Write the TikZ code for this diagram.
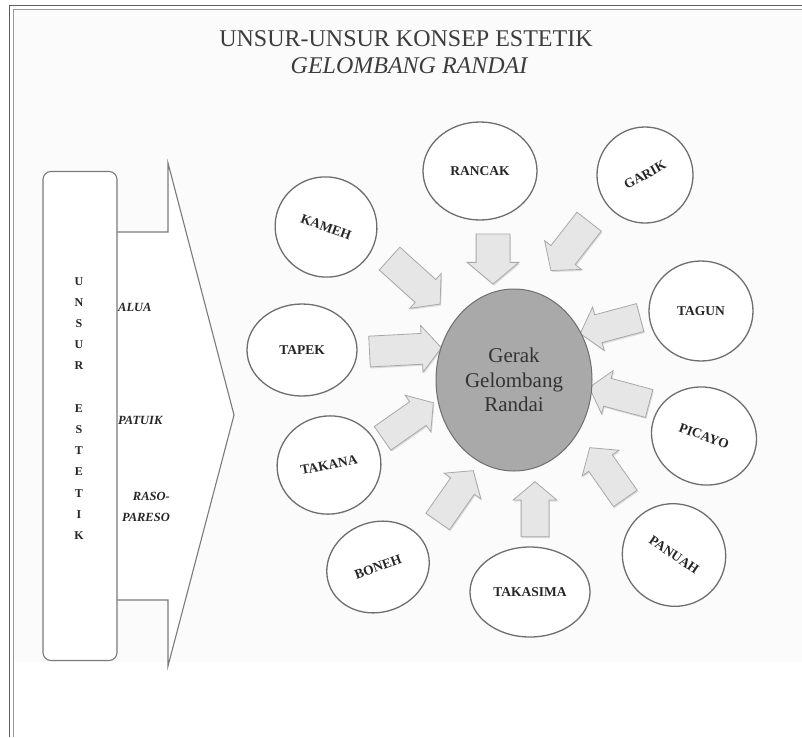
\documentclass[tikz,border=0pt]{standalone}
\usepackage{fontspec}
\setmainfont{Liberation Serif}
\usetikzlibrary{shapes.geometric,shapes.arrows,shadows}
\definecolor{linegray}{HTML}{6E6E6E}
\definecolor{boxgray}{HTML}{7A7A7A}
\definecolor{arrowfill}{HTML}{E6E6E6}
\definecolor{arrowline}{HTML}{A8A8A8}
\definecolor{centerfill}{HTML}{A9A9A9}
\definecolor{titlegray}{HTML}{3C3C3C}
\definecolor{framegray}{HTML}{9A9A9A}
\definecolor{framered}{HTML}{FF1A1A}
\tikzset{
  circ/.style={ellipse, draw=linegray, line width=1.3pt, fill=white, inner sep=0pt,
    font=\fontsize{13.5}{16}\selectfont\bfseries, text=black!85},
  barrow/.style n args={3}{single arrow, draw=arrowline, fill=arrowfill, line width=0.8pt,
    single arrow tip angle=100, single arrow head extend=#3, inner xsep=0pt, inner ysep=#2,
    minimum height=#1,
    drop shadow={opacity=0.25, shadow xshift=1pt, shadow yshift=-1.5pt}},
  sidelabel/.style={font=\fontsize{12.5}{21}\selectfont\bfseries\itshape, text=black!85, inner sep=0pt},
}
\begin{document}
\begin{tikzpicture}[x=1pt, y=-1pt]
\useasboundingbox (0,0) rectangle (802,737);
% background
\fill[gray!3] (13.5,9.5) rectangle (802,662);
% title
\node[font=\fontsize{24}{28}\selectfont, text=titlegray] (t1) at (406,39) {UNSUR-UNSUR KONSEP ESTETIK};
\node[font=\fontsize{24}{28}\selectfont\itshape, text=titlegray] (t2) at (409,66) {GELOMBANG RANDAI};
% left big arrow
\draw[boxgray, line width=1.1pt, fill=white, line join=miter]
  (117,232) -- (168,232) -- (168,163) -- (234,415) -- (168,666) -- (168,600) -- (117,600);
\node[draw=boxgray, line width=1.1pt, fill=white, rounded corners=8pt, minimum width=74pt, minimum height=489pt, inner sep=0pt] (box) at (80,416) {};
\node[font=\fontsize{12}{21.2}\selectfont\bfseries, align=center, text=black!85, inner sep=0pt, anchor=north] (unsur) at (79,277)
  {U\\N\\S\\U\\R\\ \\E\\S\\T\\E\\T\\I\\K};
\node[sidelabel, anchor=west] (alua) at (118,307) {ALUA};
\node[sidelabel, anchor=west] (patuik) at (118,420) {PATUIK};
\node[sidelabel, anchor=east, align=right] (raso) at (170,507) {RASO-\\PARESO};
% block arrows
\node[barrow={68pt}{15pt}{8pt}, rotate=-42] (a1) at (410,277) {};
\node[barrow={50pt}{16.5pt}{9pt}, rotate=-90] (a2) at (493,252) {};
\node[barrow={62pt}{15pt}{8pt}, rotate=-128] (a3) at (574,241) {};
\node[barrow={72pt}{15pt}{8pt}, rotate=3] (a4) at (399,350) {};
\node[barrow={62pt}{14pt}{8pt}, rotate=195] (a5) at (616,324) {};
\node[barrow={62pt}{14pt}{8pt}, rotate=165] (a6) at (625,397) {};
\node[barrow={62pt}{14pt}{8pt}, rotate=35] (a7) at (403,424) {};
\node[barrow={62pt}{14pt}{8pt}, rotate=55] (a8) at (452,501) {};
\node[barrow={55pt}{13.5pt}{8pt}, rotate=90] (a9) at (535,515) {};
\node[barrow={62pt}{14pt}{8pt}, rotate=125] (a10) at (611,478) {};
% center
\node[ellipse, draw=linegray, line width=1pt, fill=centerfill, minimum width=156pt, minimum height=182pt, inner sep=0pt,
  font=\fontsize{21}{24.5}\selectfont, text=black!80, align=center] (center) at (514,380) {Gerak\\Gelombang\\Randai};
% circles
\node[circ, minimum width=102pt, minimum height=100pt, rotate=-20] (kameh) at (326,227) {KAMEH};
\node[circ, minimum width=114pt, minimum height=98pt] (rancak) at (480,171) {RANCAK};
\node[circ, minimum width=96pt, minimum height=96pt, rotate=29] (garik) at (645,175) {GARIK};
\node[circ, minimum width=110pt, minimum height=92pt] (tapek) at (302,350) {TAPEK};
\node[circ, minimum width=104pt, minimum height=100pt] (tagun) at (701,311) {TAGUN};
\node[circ, minimum width=106pt, minimum height=97pt, rotate=-20] (picayo) at (704,436) {PICAYO};
\node[circ, minimum width=104pt, minimum height=98pt, rotate=11] (takana) at (329,465) {TAKANA};
\node[circ, minimum width=104pt, minimum height=90pt, rotate=20] (boneh) at (378,567) {BONEH};
\node[circ, minimum width=120pt, minimum height=90pt] (takasima) at (530,592) {TAKASIMA};
\node[circ, minimum width=104pt, minimum height=102pt, rotate=-34] (panuah) at (674,555) {PANUAH};
% frame
\draw[framegray, line width=1.3pt] (802,9.5) -- (13.5,9.5) -- (13.5,737);
\draw[framered, line width=1.3pt] (802,5.5) -- (9.5,5.5) -- (9.5,737);
\end{tikzpicture}
\end{document}
